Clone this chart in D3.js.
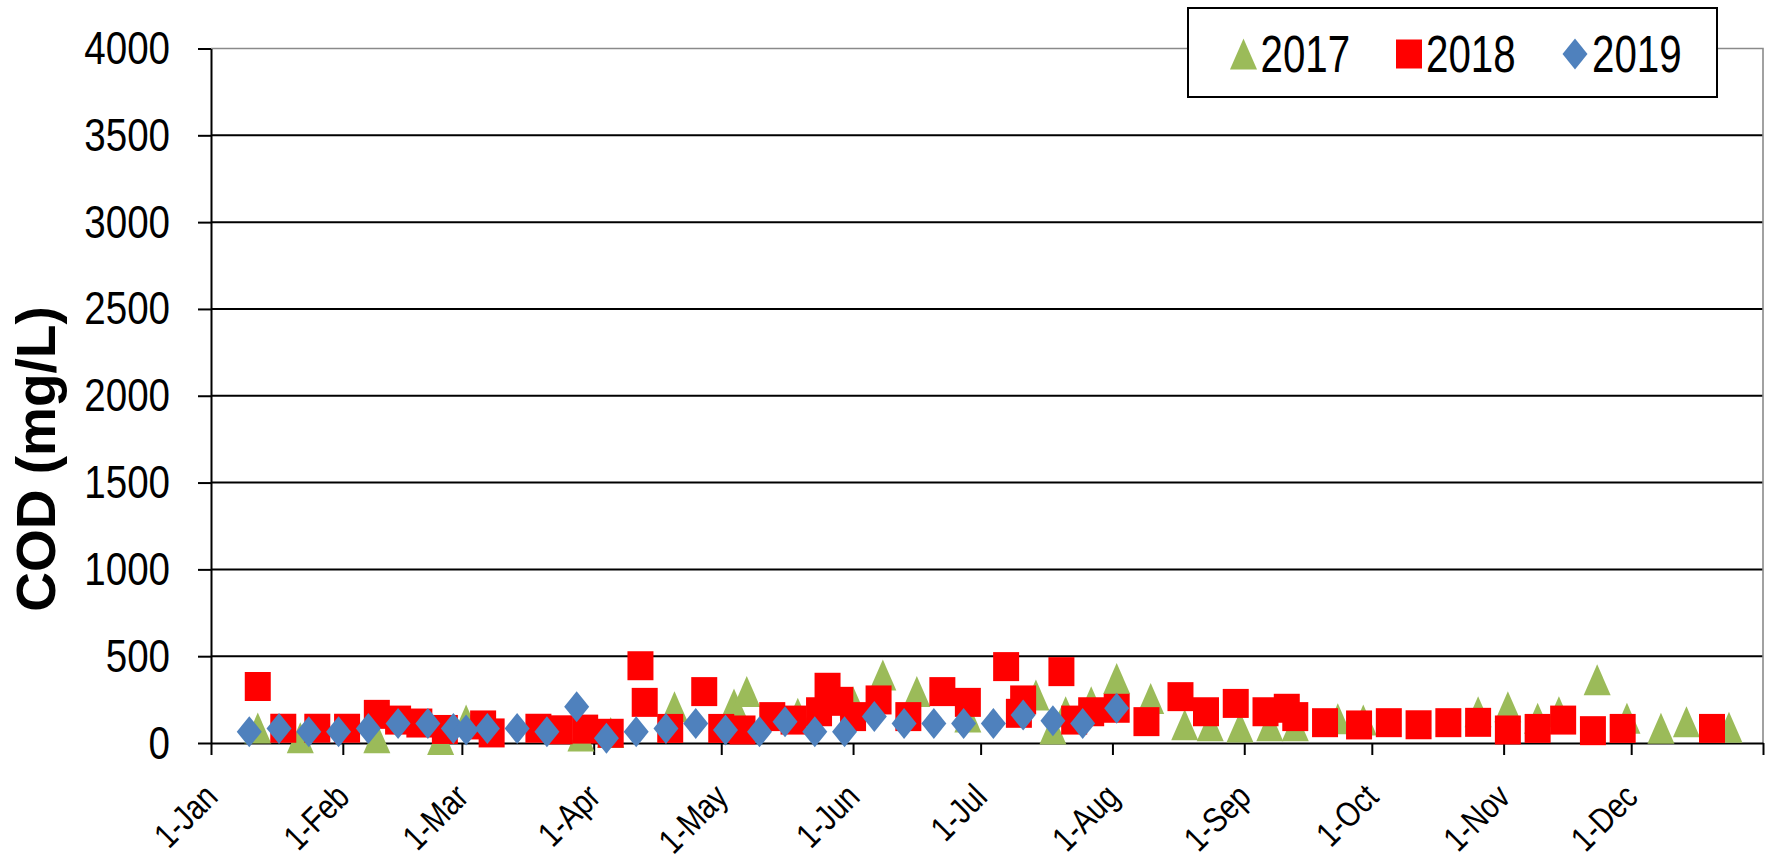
<!DOCTYPE html>
<html>
<head>
<meta charset="UTF-8">
<title>COD</title>
<script src="https://cdn.jsdelivr.net/npm/d3@7"></script>
<style>
  body { margin: 0; background: #fff; }
  text { font-family: "Liberation Sans", Arial, sans-serif; fill: #000; }
</style>
</head>
<body>
<script>
// data (month-day, COD mg/L)
var dates2017 = ["01-12","01-22","02-09","02-24","03-02","03-29","04-05","04-20","05-04","05-07","05-19",
  "06-01","06-08","06-16","06-28","07-14","07-18","07-21","07-27","08-02","08-10","08-18","08-24","08-31",
  "09-07","09-13","09-23","09-29","10-26","11-02","11-09","11-14","11-23","11-30","12-08","12-14","12-24"];
var cod2017 = [86,30,30,20,132,40,60,209,225,296,171,
  238,392,296,150,276,80,180,238,372,257,105,100,92,
  100,100,140,132,180,209,142,180,365,142,85,123,90];

var dates2018 = ["01-12","01-18","01-26","02-02","02-09","02-14","02-19","02-25","03-06","03-08","03-19",
  "03-24","03-30","04-05","04-12","04-13","04-19","04-27","05-01","05-06","05-13","05-18","05-24","05-26",
  "05-29","06-01","06-07","06-14","06-22","06-28","07-07","07-10","07-11","07-20","07-23","07-27","08-02",
  "08-09","08-17","08-23","08-30","09-06","09-11","09-13","09-20","09-28","10-05","10-12","10-19","10-26",
  "11-02","11-09","11-15","11-22","11-29","12-20"];
var cod2018 = [325,85,85,85,165,132,115,78,104,58,85,
  76,80,56,445,234,84,296,84,75,152,132,180,321,
  240,152,248,152,296,234,440,171,248,411,132,180,200,
  123,267,180,228,180,200,152,117,104,117,105,117,119,
  75,84,132,71,84,84];

var dates2019 = ["01-10","01-17","01-24","01-31","02-07","02-14","02-21","02-27","03-02","03-07","03-14",
  "03-21","03-28","04-04","04-11","04-18","04-25","05-02","05-10","05-16","05-23","05-30","06-06","06-13",
  "06-20","06-27","07-04","07-11","07-18","07-25","08-02"];
var cod2019 = [65,84,65,65,84,113,113,84,75,84,84,
  65,209,27,65,84,113,75,65,123,65,65,152,113,
  113,113,113,161,128,113,200];

var monthLabels = ["1-Jan","1-Feb","1-Mar","1-Apr","1-May","1-Jun","1-Jul","1-Aug","1-Sep","1-Oct","1-Nov","1-Dec"];
var yTicks = [0,500,1000,1500,2000,2500,3000,3500,4000];
var seriesNames = ["2017","2018","2019"];

var width = 1773, height = 859;
var plotL = 211, plotR = 1763, plotT = 48.5, plotB = 743;

var parseDay = d3.timeParse("%Y-%m-%d");
function day(md) { return parseDay("2001-" + md); }

var x = d3.scaleTime()
  .domain([new Date(2001, 0, 1), new Date(2002, 0, 1)])
  .range([plotL, plotR]);
var y = d3.scaleLinear().domain([0, 4000]).range([plotB, plotT]);

var svg = d3.select("body").append("svg")
  .attr("width", width)
  .attr("height", height);

// squeeze text horizontally, the picture's font is narrow
function narrow(sel, k) {
  sel.each(function() {
    var w = this.getComputedTextLength();
    d3.select(this).attr("textLength", w * k).attr("lengthAdjust", "spacingAndGlyphs");
  });
}

// grid lines
svg.append("g").selectAll("line")
  .data(yTicks.filter(function(v) { return v > 0 && v < 4000; }))
  .enter().append("line")
  .attr("x1", plotL).attr("x2", plotR)
  .attr("y1", function(v) { return y(v); })
  .attr("y2", function(v) { return y(v); })
  .attr("stroke", "#000").attr("stroke-width", 2);

// plot border top / right (grey)
svg.append("path")
  .attr("d", "M" + plotL + "," + y(4000) + "H" + plotR + "V" + plotB)
  .attr("fill", "none").attr("stroke", "#8a8a8a").attr("stroke-width", 1.6);

// y axis
var yAxis = svg.append("g")
  .attr("transform", "translate(" + plotL + ",0)")
  .call(d3.axisLeft(y).tickValues(yTicks).tickFormat(d3.format("d"))
    .tickSize(13).tickSizeOuter(0).tickPadding(28));
yAxis.select(".domain").attr("stroke", "#000").attr("stroke-width", 2);
yAxis.selectAll(".tick line").attr("stroke", "#000").attr("stroke-width", 2);
yAxis.selectAll(".tick text").attr("font-size", 47).attr("font-family", "Liberation Sans, Arial, sans-serif")
  .attr("fill", "#111")
  .call(narrow, 0.82);

// x axis
var monthTicks = d3.range(13).map(function(m) { return new Date(2001, m, 1); });
var xAxis = svg.append("g")
  .attr("transform", "translate(0," + plotB + ")")
  .call(d3.axisBottom(x).tickValues(monthTicks).tickSize(12).tickSizeOuter(0)
    .tickFormat(function(d, i) { return monthLabels[i] || ""; }));
xAxis.select(".domain").attr("stroke", "#000").attr("stroke-width", 2);
xAxis.selectAll(".tick line").attr("stroke", "#000").attr("stroke-width", 2);
xAxis.selectAll(".tick text")
  .attr("font-size", 35).attr("font-family", "Liberation Sans, Arial, sans-serif")
  .attr("text-anchor", "end")
  .attr("x", 0).attr("y", 0).attr("dy", 0)
  .attr("transform", "translate(8,56) rotate(-45)")
  .call(narrow, 0.82);

// y label
svg.append("text")
  .attr("transform", "translate(55,459) rotate(-90)")
  .attr("text-anchor", "middle")
  .attr("font-size", 55)
  .attr("font-weight", "bold")
  .text("COD (mg/L)");

// markers
var triW = 27, triH = 31, sqW = 26, sqH = 29, diW = 25, diH = 31;
function triPath(cx, cy) {
  return "M" + cx + "," + (cy - triH / 2) + "L" + (cx + triW / 2) + "," + (cy + triH / 2) +
    "L" + (cx - triW / 2) + "," + (cy + triH / 2) + "Z";
}
function diaPath(cx, cy) {
  return "M" + cx + "," + (cy - diH / 2) + "L" + (cx + diW / 2) + "," + cy +
    "L" + cx + "," + (cy + diH / 2) + "L" + (cx - diW / 2) + "," + cy + "Z";
}
function sqPath(cx, cy) {
  return "M" + (cx - sqW / 2) + "," + (cy - sqH / 2) + "h" + sqW + "v" + sqH + "h" + (-sqW) + "Z";
}

var series = [
  { name: seriesNames[0], dates: dates2017, vals: cod2017, color: "#9BBB59", shape: triPath },
  { name: seriesNames[1], dates: dates2018, vals: cod2018, color: "#FF0000", shape: sqPath },
  { name: seriesNames[2], dates: dates2019, vals: cod2019, color: "#4F81BD", shape: diaPath }
];

series.forEach(function(s) {
  var pts = s.dates.map(function(d, i) { return { t: day(d), v: s.vals[i] }; });
  svg.append("g").selectAll("path")
    .data(pts)
    .enter().append("path")
    .attr("d", function(p) { return s.shape(x(p.t), y(p.v)); })
    .attr("fill", s.color);
});

// legend
var lg = svg.append("g").attr("transform", "translate(1188,8)");
lg.append("rect").attr("width", 529).attr("height", 89)
  .attr("fill", "#fff").attr("stroke", "#000").attr("stroke-width", 2);
var itemX = [55.5, 221, 387];
series.forEach(function(s, i) {
  lg.append("path").attr("d", s.shape(itemX[i], 46)).attr("fill", s.color);
  lg.append("text")
    .attr("x", itemX[i] + 17)
    .attr("y", 64)
    .attr("font-size", 51)
    .attr("fill", "#111")
    .text(s.name)
    .call(narrow, 0.79);
});
</script>
</body>
</html>
